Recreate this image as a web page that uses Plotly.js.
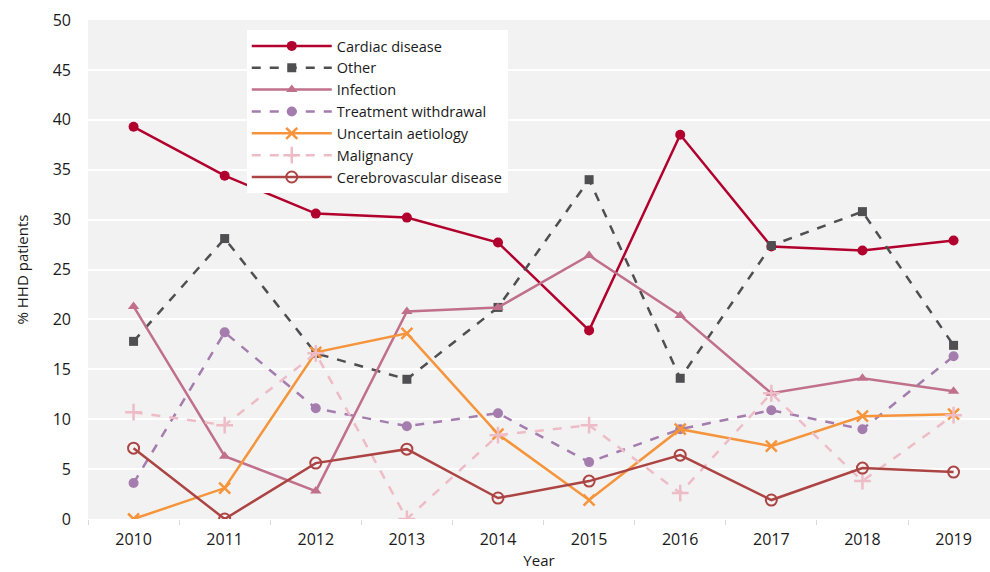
<!DOCTYPE html>
<html><head><meta charset="utf-8">
<script src="https://cdn.plot.ly/plotly-3.0.1.min.js"></script>
<style>html,body{margin:0;padding:0;background:#fff}#chart{width:990px;height:572px}</style>
</head><body><div id="chart"></div>
<script>
const years = ["2010","2011","2012","2013","2014","2015","2016","2017","2018","2019"];
const cardiac = [39.3,34.4,30.6,30.2,27.7,18.9,38.5,27.3,26.9,27.9];
const other = [17.8,28.1,16.6,14.0,21.2,34.0,14.1,27.4,30.8,17.4];
const infection = [21.3,6.3,2.8,20.8,21.2,26.4,20.4,12.6,14.1,12.8];
const withdrawal = [3.6,18.7,11.1,9.3,10.6,5.7,9.0,10.9,9.0,16.3];
const uncertain = [0,3.1,16.7,18.6,8.5,1.9,9.0,7.3,10.3,10.5];
const malignancy = [10.7,9.4,16.6,0,8.4,9.4,2.6,12.6,3.8,10.4];
const cerebro = [7.1,0,5.6,7.0,2.1,3.8,6.4,1.9,5.1,4.7];
const names = ["Cardiac disease","Other","Infection","Treatment withdrawal","Uncertain aetiology","Malignancy","Cerebrovascular disease"];

function tr(name, y, color, dash, symbol, size, mline){
  return {x: years, y: y, name: name, type: "scatter", mode: "lines+markers",
    line: {color: color, width: 2.5, dash: dash},
    marker: {color: color, symbol: symbol, size: size, line: {color: color, width: mline}}};
}
const data = [
  tr(names[0], cardiac, "#b2002e", "solid", "circle", 10, 0),
  tr(names[1], other, "#4f4f52", "dash", "square", 9, 0),
  tr(names[2], infection, "#c0708a", "solid", "triangle-up", 10, 0),
  tr(names[3], withdrawal, "#a47cad", "dash", "circle", 10, 0),
  tr(names[4], uncertain, "#f5943a", "solid", "x-thin-open", 11, 2.5),
  tr(names[5], malignancy, "#eebcc6", "dash", "cross-thin-open", 12, 2.5),
  tr(names[6], cerebro, "#ad4444", "solid", "circle-open", 11, 2)
];
const font = {family: "'Open Sans', sans-serif", size: 15, color: "#1a1a1a"};
const layout = {
  width: 990, height: 572,
  margin: {l: 88, r: 0, t: 20, b: 53},
  paper_bgcolor: "#ffffff", plot_bgcolor: "#f2f2f2",
  font: font, showlegend: true,
  xaxis: {type: "category", range: [-0.5, 9.4], tickson: "boundaries", ticks: "outside",
    ticklen: 5, tickcolor: "#d9d9d9", showgrid: false, zeroline: false, showline: false,
    tickfont: {size: 16}, ticklabelstandoff: 9, title: {text: "Year", font: {size: 15}, standoff: 6}},
  yaxis: {range: [0, 50], dtick: 5, gridcolor: "#ffffff", gridwidth: 2, zeroline: false,
    showline: false, ticks: "", tickfont: {size: 16}, ticklabelstandoff: 16,
    title: {text: "% HHD patients", font: {size: 15}, standoff: 20}},
  legend: {x: 0.176, y: 0.98, xanchor: "left", yanchor: "top", bgcolor: "#ffffff",
    font: {size: 14.5}, tracegroupgap: 0, itemwidth: 80, borderwidth: 0},
};
Plotly.newPlot("chart", data, layout, {displayModeBar: false});
</script></body></html>
